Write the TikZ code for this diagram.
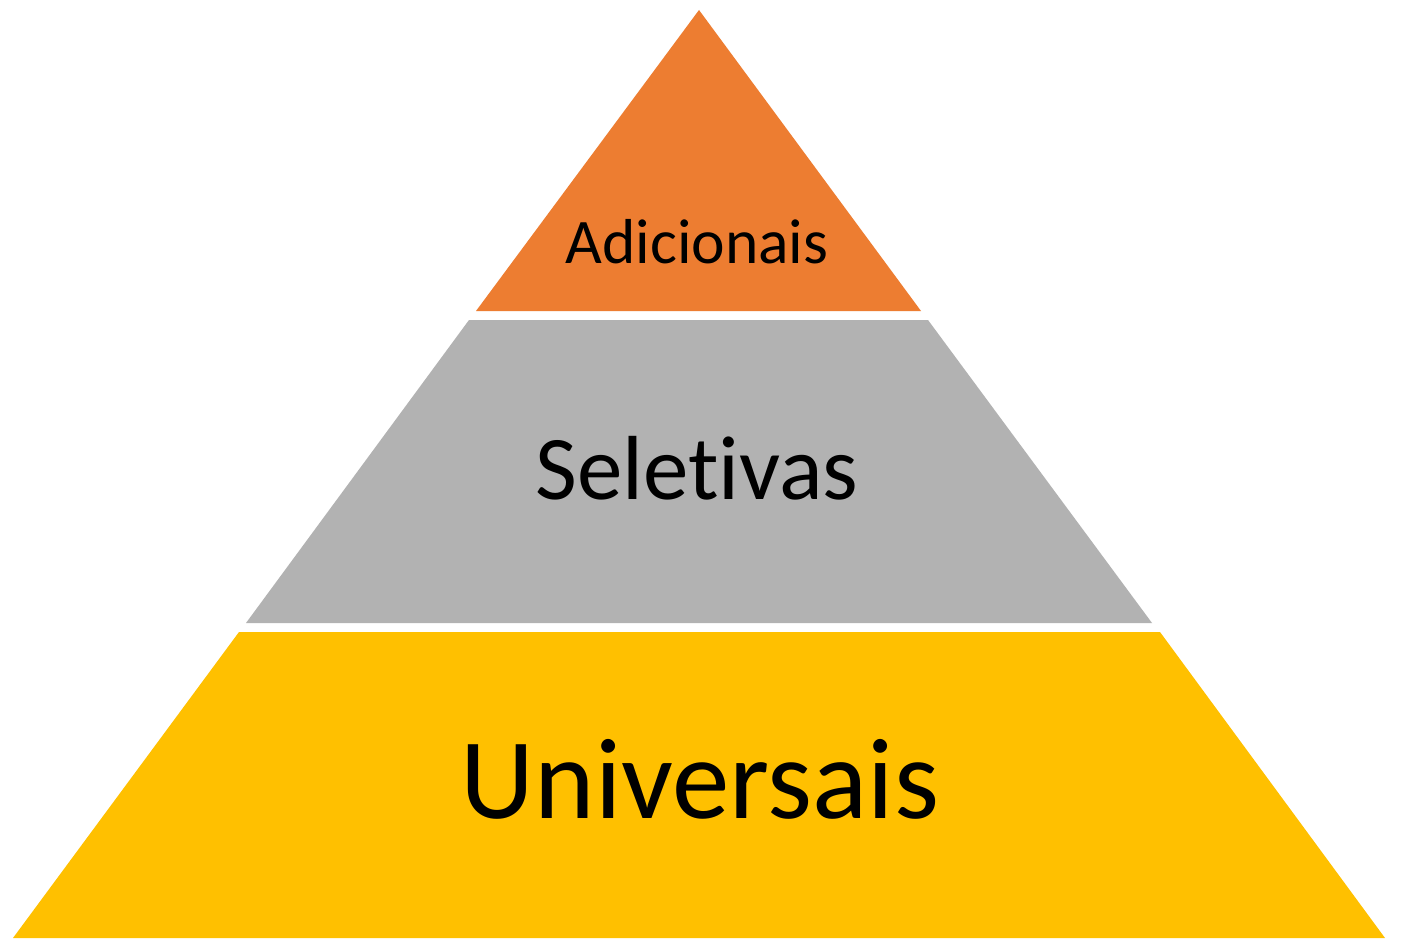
\documentclass[tikz,border=0pt]{standalone}
\usepackage{fontspec}
\setmainfont{Carlito}[Ligatures=NoCommon]
\definecolor{topc}{HTML}{ED7D31}
\definecolor{midc}{HTML}{B2B2B2}
\definecolor{botc}{HTML}{FFC000}
\begin{document}
\begin{tikzpicture}[x=1pt,y=-1pt,
  lbl/.style={anchor=base,inner sep=0pt,text=black}]
\useasboundingbox (0,0) rectangle (1404,941);
\fill[white] (0,0) rectangle (1404,941);
\fill[topc] (699,10) -- (476,311) -- (921,311) -- cycle;
\fill[midc] (469,320) -- (928,320) -- (1152,623) -- (246,623) -- cycle;
\fill[botc] (239,632) -- (1160,632) -- (1385,938) -- (13,938) -- cycle;
\node[lbl,font=\fontsize{63.5}{70}\selectfont] (adic) at (697,263) {Adicionais};
\node[lbl,font=\fontsize{91}{100}\selectfont] (selet) at (697,499) {Seletivas};
\node[lbl,font=\fontsize{115}{125}\selectfont] (univ) at (700,818) {Universais};
\end{tikzpicture}
\end{document}
